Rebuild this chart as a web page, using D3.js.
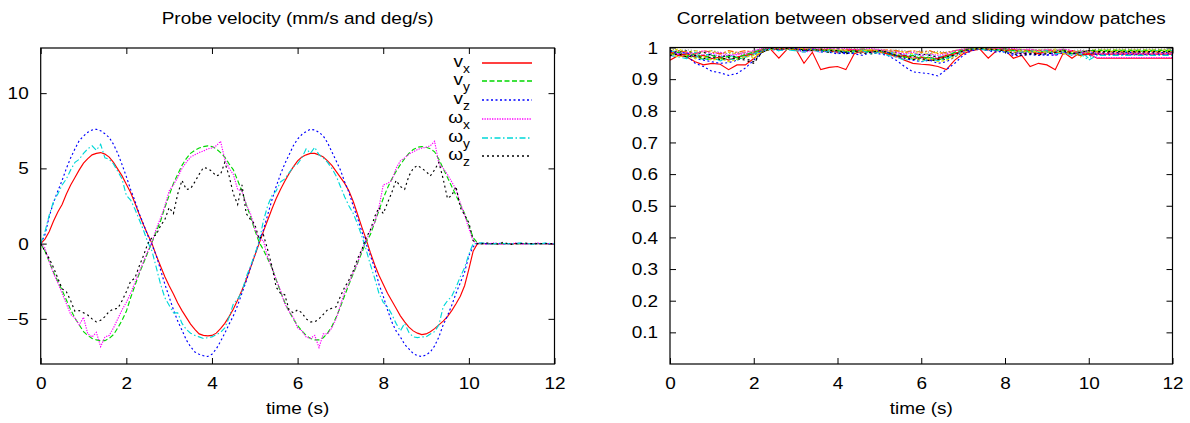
<!DOCTYPE html>
<html>
<head>
<meta charset="utf-8">
<script src="https://cdn.jsdelivr.net/npm/d3@7"></script>
<style>
body{margin:0;background:#fff}
svg text{font-family:"Liberation Sans",Arial,Helvetica,sans-serif;fill:#000}
</style>
</head>
<body>
<svg width="1190" height="423"></svg>
<script>
// ---- data (left: sampled every 0.1 s, right: every 0.2 s) ----
const velStep = 0.1
const vx = [
  0, 0.3, 0.8, 1.5, 2.1, 2.6, 3.3, 3.9, 4.4, 4.9,
  5.35, 5.65, 5.9, 6.0, 6.05, 5.95, 5.75, 5.4, 4.95, 4.5,
  3.95, 3.4, 2.7, 1.95, 1.25, 0.6, 0.0, -0.8, -1.5, -2.2,
  -2.8, -3.35, -3.95, -4.45, -4.9, -5.35, -5.7, -6.0, -6.1, -6.13,
  -6.1, -5.95, -5.65, -5.3, -4.85, -4.35, -3.75, -3.1, -2.4, -1.6,
  -0.8, 0.0, 0.8, 1.55, 2.3, 3.0, 3.6, 4.15, 4.65, 5.1,
  5.5, 5.75, 5.9, 6.0, 6.0, 5.9, 5.75, 5.5, 5.2, 4.8,
  4.4, 4.0, 3.5, 2.8, 1.95, 1.1, 0.3, -0.6, -1.4, -2.1,
  -2.7, -3.3, -3.8, -4.3, -4.8, -5.2, -5.55, -5.8, -5.95, -6.05,
  -6.0, -5.85, -5.65, -5.4, -5.15, -4.85, -4.45, -4.0, -3.5, -2.8,
  -1.7, -0.5, 0, 0, 0, 0, 0, 0, 0, 0,
  0, 0, 0, 0, 0, 0, 0, 0, 0, 0, 0
]
const vy = [
  0, -0.5, -1.2, -1.9, -2.5, -3.1, -3.75, -4.4, -4.95, -5.4,
  -5.85, -6.1, -6.3, -6.4, -6.45, -6.45, -6.3, -6.05, -5.6, -5.1,
  -4.5, -3.6, -2.8, -2.0, -1.3, -0.6, 0.1, 0.8, 1.5, 2.4,
  3.2, 4.0, 4.6, 5.2, 5.65, 6.0, 6.2, 6.35, 6.45, 6.5,
  6.45, 6.3, 6.05, 5.75, 5.3, 4.9, 4.2, 3.5, 2.6, 1.8,
  0.9, 0.1, -0.4, -1.0, -1.6, -2.4, -3.2, -3.9, -4.5, -5.0,
  -5.45, -5.8, -6.1, -6.3, -6.4, -6.4, -6.25, -5.95, -5.5, -4.9,
  -4.2, -3.45, -2.7, -2.0, -1.3, -0.6, 0.1, 0.6, 1.4, 2.2,
  3.0, 3.7, 4.3, 4.8, 5.25, 5.65, 6.0, 6.25, 6.4, 6.45,
  6.4, 6.3, 6.1, 5.6, 5.0, 4.4, 3.8, 3.2, 2.6, 2.0,
  1.2, 0.4, 0.05, 0, 0, 0, 0, 0, 0, 0,
  0, 0, 0, 0, 0, 0, 0, 0, 0, 0, 0
]
const vz = [
  0, 0.6, 1.8, 2.75, 3.5, 4.2, 5.0, 5.7, 6.3, 6.85,
  7.15, 7.4, 7.55, 7.6, 7.5, 7.3, 7.05, 6.6, 6.0, 5.25,
  4.45, 3.6, 2.85, 2.0, 1.3, 0.55, -0.1, -0.8, -1.75, -2.7,
  -3.55, -4.4, -5.15, -5.75, -6.4, -6.85, -7.2, -7.35, -7.45, -7.5,
  -7.35, -7.0, -6.5, -5.95, -5.35, -4.8, -4.1, -3.3, -2.5, -1.6,
  -0.75, 0.1, 0.9, 1.9, 2.9, 3.8, 4.6, 5.3, 5.9, 6.5,
  6.95, 7.25, 7.45, 7.6, 7.55, 7.4, 7.15, 6.7, 6.1, 5.5,
  4.9, 4.1, 3.4, 2.5, 1.7, 0.8, 0.0, -0.8, -1.6, -2.7,
  -3.5, -4.4, -5.2, -5.8, -6.2, -6.7, -7.0, -7.3, -7.45, -7.5,
  -7.4, -7.2, -6.8, -6.2, -5.4, -4.8, -4.1, -3.3, -2.6, -1.9,
  -0.8, -0.2, 0, 0, 0, 0, 0, 0, 0, 0,
  0, 0, 0, 0, 0, 0, 0, 0, 0, 0, 0
]
const wx = [
  0, -0.3, -1.2, -2.0, -2.6, -3.3, -4.0, -4.7, -4.95, -5.4,
  -4.9, -6.0, -6.2, -5.9, -6.85, -6.2, -6.1, -5.6, -5.0, -4.4,
  -3.9, -3.3, -2.6, -1.9, -1.2, -0.5, 0.1, 1.0, 1.7, 2.5,
  3.5, 3.9, 4.4, 5.0, 5.4, 5.75, 5.9, 6.05, 6.15, 6.3,
  6.35, 6.5, 6.8, 5.6, 5.0, 4.6, 3.6, 3.5, 2.6, 2.0,
  1.0, 0.3, 0.2, -0.9, -1.6, -2.4, -3.1, -4.0, -4.5, -4.9,
  -5.6, -5.8, -6.2, -6.3, -6.1, -6.9, -6.0, -6.0, -5.6, -5.0,
  -4.1, -3.2, -2.6, -1.9, -1.3, -0.4, 0.2, 0.9, 1.4, 2.4,
  3.9, 4.0, 4.2, 5.0, 5.5, 5.7, 5.95, 6.1, 6.25, 6.35,
  6.4, 6.5, 6.8, 5.3, 5.0, 4.6, 4.1, 3.6, 2.7, 1.9,
  1.0, 0.2, 0.0, 0.05, -0.05, 0.0, 0.05, 0.0, -0.05, 0.0,
  0, 0.05, 0, -0.05, 0, 0, 0.05, 0, 0, 0, 0
]
const wy = [
  0, 0.8, 1.9, 2.8, 3.3, 3.9, 4.3, 4.9, 5.4, 5.6,
  6.0, 6.3, 6.5, 6.2, 6.6, 5.7, 5.6, 5.3, 4.8, 4.3,
  3.2, 2.9, 2.3, 1.6, 0.9, 0.1, -0.5, -1.6, -2.7, -3.6,
  -4.1, -4.6, -4.6, -5.3, -5.7, -5.95, -6.1, -6.2, -6.3, -6.25,
  -6.2, -6.05, -5.9, -5.6, -4.9, -4.0, -3.7, -3.2, -2.2, -1.5,
  -0.7, 0.1, 1.5, 2.5, 3.2, 3.5, 4.1, 4.3, 4.7, 5.1,
  5.3, 5.7, 6.3, 6.0, 6.4, 5.9, 5.7, 5.4, 5.0, 4.5,
  3.8, 3.1, 2.5, 2.0, 1.3, 0.5, -0.4, -1.4, -2.3, -3.3,
  -3.9, -4.2, -4.7, -5.3, -5.8, -5.3, -5.9, -6.2, -6.25, -6.2,
  -6.2, -6.0, -5.85, -5.4, -4.2, -3.8, -3.5, -2.9, -2.2, -1.6,
  -0.7, 0.0, 0.0, 0.05, 0.0, -0.05, 0.0, 0.05, 0.0, 0.0,
  0, 0, 0.05, 0, 0, -0.05, 0, 0, 0.05, 0, 0
]
const wz = [
  0, -0.5, -1.0, -1.6, -2.3, -3.0, -3.2, -3.8, -4.5, -4.45,
  -4.6, -4.75, -5.0, -5.2, -5.1, -4.85, -4.5, -4.35, -4.3, -3.8,
  -3.2, -2.5, -2.3, -1.5, -0.8, 0.0, 0.4, 0.6, 1.2, 1.6,
  2.4, 2.0, 3.3, 4.2, 3.6, 3.65, 4.1, 4.6, 5.05, 5.0,
  4.8, 4.5, 4.6, 5.4, 4.5, 3.3, 2.6, 3.9, 2.0, 1.6,
  1.3, 0.3, 0.6, -0.4, -1.5, -2.9, -3.3, -3.4, -4.4, -4.6,
  -4.4, -4.6, -5.0, -5.2, -5.2, -5.0, -4.7, -4.4, -4.3, -4.2,
  -3.5, -2.9, -2.4, -1.8, -1.0, -0.4, 0.4, 0.9, 1.8, 2.4,
  2.0, 2.7, 3.4, 4.2, 3.8, 3.6, 4.5, 5.0, 5.2, 5.0,
  4.8, 4.5, 4.9, 5.4, 4.3, 3.0, 3.2, 3.8, 2.4, 1.9,
  1.4, 0.2, 0.0, 0.0, 0.05, 0.0, 0.0, -0.05, 0.1, 0.0,
  -0.05, 0, 0, 0.05, 0, 0, 0, 0, 0, 0, 0
]
const velNames = [['v','x'],['v','y'],['v','z'],['\u03c9','x'],['\u03c9','y'],['\u03c9','z']]

const corrStep = 0.2
const corrRed = [
  0.96, 0.975, 0.97, 0.955, 0.945, 0.95, 0.947, 0.93, 0.945, 0.945,
  0.965, 0.99, 0.995, 0.966, 0.995, 0.996, 0.95, 0.985, 0.93, 0.937,
  0.94, 0.93, 0.98, 0.99, 0.985, 0.99, 0.98, 0.975, 0.96, 0.95,
  0.947, 0.945, 0.94, 0.93, 0.96, 0.98, 0.99, 0.995, 0.966, 0.99,
  0.992, 0.966, 0.975, 0.94, 0.95, 0.945, 0.93, 0.985, 0.966, 0.985,
  0.98, 0.966, 0.966, 0.966, 0.966, 0.966, 0.966, 0.966, 0.966, 0.966,
  0.966
]
const corrGreen = [
  0.98, 0.985, 0.975, 0.97, 0.963, 0.962, 0.963, 0.962, 0.963, 0.97,
  0.98, 0.99, 0.997, 0.995, 0.998, 0.995, 0.99, 0.995, 0.99, 0.985,
  0.99, 0.985, 0.99, 0.995, 0.99, 0.985, 0.98, 0.975, 0.97, 0.965,
  0.97, 0.968, 0.965, 0.97, 0.98, 0.99, 0.995, 0.997, 0.995, 0.99,
  0.995, 0.99, 0.985, 0.99, 0.985, 0.99, 0.985, 0.99, 0.985, 0.98,
  0.975, 0.988, 0.988, 0.988, 0.988, 0.988, 0.988, 0.988, 0.988, 0.988,
  0.988
]
const corrBlue = [
  0.985, 0.98, 0.975, 0.95, 0.94, 0.925, 0.92, 0.912, 0.918, 0.935,
  0.96, 0.985, 0.995, 0.99, 0.996, 0.995, 0.99, 0.993, 0.985, 0.99,
  0.985, 0.98, 0.985, 0.99, 0.985, 0.98, 0.975, 0.96, 0.94, 0.923,
  0.92, 0.917, 0.91, 0.93, 0.95, 0.975, 0.99, 0.995, 0.99, 0.985,
  0.99, 0.98, 0.985, 0.98, 0.985, 0.975, 0.985, 0.99, 0.98, 0.985,
  0.975, 0.984, 0.984, 0.984, 0.984, 0.984, 0.984, 0.984, 0.984, 0.984,
  0.984
]
const corrMagenta = [
  0.99, 0.975, 0.98, 0.975, 0.977, 0.975, 0.976, 0.974, 0.977, 0.98,
  0.985, 0.993, 0.998, 0.995, 0.997, 0.993, 0.985, 0.99, 0.985, 0.99,
  0.985, 0.99, 0.993, 0.99, 0.985, 0.99, 0.985, 0.98, 0.975, 0.97,
  0.965, 0.97, 0.968, 0.972, 0.98, 0.985, 0.993, 0.996, 0.99, 0.994,
  0.99, 0.985, 0.98, 0.985, 0.98, 0.985, 0.975, 0.985, 0.975, 0.99,
  0.98, 0.968, 0.968, 0.968, 0.968, 0.968, 0.968, 0.968, 0.968, 0.968,
  0.968
]
const corrCyan = [
  0.985, 0.99, 0.98, 0.985, 0.975, 0.98, 0.97, 0.975, 0.97, 0.975,
  0.98, 0.99, 0.995, 0.997, 0.995, 0.99, 0.995, 0.99, 0.993, 0.99,
  0.993, 0.985, 0.99, 0.985, 0.99, 0.985, 0.99, 0.98, 0.975, 0.98,
  0.975, 0.978, 0.97, 0.975, 0.985, 0.99, 0.995, 0.997, 0.993, 0.99,
  0.995, 0.99, 0.99, 0.985, 0.99, 0.985, 0.99, 0.98, 0.985, 0.99,
  0.965, 0.99, 0.99, 0.99, 0.99, 0.99, 0.99, 0.99, 0.99, 0.99,
  0.99
]
const corrYellow = [
  0.99, 0.995, 0.985, 0.99, 0.985, 0.99, 0.98, 0.985, 0.98, 0.985,
  0.965, 0.99, 0.998, 0.997, 0.999, 0.997, 0.995, 0.997, 0.99, 0.995,
  0.99, 0.995, 0.99, 0.995, 0.99, 0.993, 0.985, 0.99, 0.985, 0.98,
  0.985, 0.98, 0.985, 0.98, 0.99, 0.995, 0.997, 0.998, 0.995, 0.997,
  0.995, 0.993, 0.995, 0.99, 0.993, 0.99, 0.995, 0.985, 0.99, 0.97,
  0.99, 0.993, 0.993, 0.993, 0.993, 0.993, 0.993, 0.993, 0.993, 0.993,
  0.993
]
const corrBlack = [
  0.99, 0.985, 0.99, 0.98, 0.985, 0.975, 0.97, 0.975, 0.97, 0.965,
  0.955, 0.985, 0.995, 0.993, 0.996, 0.995, 0.99, 0.993, 0.99, 0.985,
  0.99, 0.98, 0.985, 0.99, 0.98, 0.985, 0.99, 0.985, 0.975, 0.97,
  0.98, 0.975, 0.97, 0.96, 0.98, 0.99, 0.993, 0.995, 0.99, 0.993,
  0.99, 0.985, 0.98, 0.983, 0.98, 0.983, 0.98, 0.99, 0.985, 0.975,
  0.985, 0.982, 0.982, 0.982, 0.982, 0.982, 0.982, 0.982, 0.982, 0.982,
  0.982
]
const corrOrange = [
  0.98, 0.99, 0.985, 0.98, 0.99, 0.985, 0.98, 0.99, 0.985, 0.99,
  0.985, 0.995, 0.997, 0.995, 0.997, 0.998, 0.993, 0.995, 0.993, 0.995,
  0.99, 0.993, 0.995, 0.99, 0.993, 0.99, 0.993, 0.99, 0.985, 0.99,
  0.985, 0.99, 0.98, 0.985, 0.99, 0.993, 0.995, 0.997, 0.995, 0.993,
  0.997, 0.993, 0.99, 0.993, 0.99, 0.993, 0.99, 0.993, 0.99, 0.985,
  0.99, 0.986, 0.986, 0.986, 0.986, 0.986, 0.986, 0.986, 0.986, 0.986,
  0.986
]
const corrGray = [
  0.995, 0.99, 0.993, 0.99, 0.985, 0.99, 0.985, 0.98, 0.985, 0.98,
  0.99, 0.996, 0.998, 0.997, 0.998, 0.997, 0.995, 0.997, 0.995, 0.997,
  0.995, 0.993, 0.997, 0.995, 0.993, 0.995, 0.99, 0.993, 0.99, 0.985,
  0.99, 0.985, 0.988, 0.985, 0.99, 0.995, 0.997, 0.998, 0.997, 0.995,
  0.997, 0.995, 0.993, 0.995, 0.993, 0.995, 0.993, 0.995, 0.99, 0.993,
  0.99, 0.995, 0.995, 0.995, 0.995, 0.995, 0.995, 0.995, 0.995, 0.995,
  0.995
]
const corrRed2 = [
  0.985, 0.975, 0.98, 0.97, 0.975, 0.965, 0.97, 0.96, 0.97, 0.975,
  0.98, 0.993, 0.997, 0.995, 0.997, 0.993, 0.995, 0.99, 0.993, 0.99,
  0.985, 0.99, 0.993, 0.985, 0.99, 0.985, 0.98, 0.97, 0.975, 0.965,
  0.97, 0.96, 0.965, 0.975, 0.98, 0.99, 0.995, 0.997, 0.993, 0.995,
  0.99, 0.993, 0.985, 0.99, 0.98, 0.99, 0.985, 0.98, 0.99, 0.975,
  0.98, 0.979, 0.979, 0.979, 0.979, 0.979, 0.979, 0.979, 0.979, 0.979,
  0.979
]
const corrGreen2 = [
  0.975, 0.985, 0.97, 0.98, 0.968, 0.975, 0.965, 0.972, 0.968, 0.978,
  0.985, 0.995, 0.998, 0.996, 0.999, 0.996, 0.993, 0.996, 0.99, 0.993,
  0.99, 0.985, 0.99, 0.993, 0.985, 0.99, 0.983, 0.975, 0.97, 0.975,
  0.965, 0.97, 0.96, 0.97, 0.985, 0.993, 0.997, 0.998, 0.996, 0.993,
  0.996, 0.99, 0.993, 0.985, 0.99, 0.985, 0.99, 0.993, 0.98, 0.985,
  0.99, 0.991, 0.991, 0.991, 0.991, 0.991, 0.991, 0.991, 0.991, 0.991,
  0.991
]
const corrBlue2 = [
  0.99, 0.98, 0.985, 0.965, 0.96, 0.955, 0.95, 0.952, 0.96, 0.97,
  0.975, 0.99, 0.996, 0.993, 0.995, 0.997, 0.99, 0.995, 0.99, 0.985,
  0.98, 0.985, 0.98, 0.975, 0.985, 0.99, 0.985, 0.975, 0.965, 0.96,
  0.955, 0.96, 0.95, 0.955, 0.97, 0.985, 0.993, 0.996, 0.993, 0.99,
  0.985, 0.975, 0.975, 0.978, 0.975, 0.977, 0.975, 0.985, 0.98, 0.99,
  0.985, 0.977, 0.977, 0.977, 0.977, 0.977, 0.977, 0.977, 0.977, 0.977,
  0.977
]
const corrMagenta2 = [
  0.97, 0.98, 0.985, 0.98, 0.99, 0.98, 0.985, 0.975, 0.98, 0.985,
  0.99, 0.997, 0.999, 0.997, 0.998, 0.999, 0.997, 0.998, 0.995, 0.997,
  0.995, 0.997, 0.993, 0.995, 0.997, 0.993, 0.99, 0.985, 0.98, 0.985,
  0.975, 0.98, 0.975, 0.98, 0.99, 0.995, 0.998, 0.999, 0.997, 0.998,
  0.995, 0.997, 0.993, 0.995, 0.99, 0.993, 0.99, 0.995, 0.99, 0.98,
  0.99, 0.981, 0.981, 0.981, 0.981, 0.981, 0.981, 0.981, 0.981, 0.981,
  0.981
]
const corrCyan2 = [
  0.975, 0.97, 0.965, 0.975, 0.96, 0.97, 0.958, 0.965, 0.96, 0.97,
  0.98, 0.99, 0.995, 0.99, 0.993, 0.99, 0.985, 0.993, 0.985, 0.99,
  0.985, 0.99, 0.985, 0.99, 0.98, 0.985, 0.975, 0.97, 0.96, 0.965,
  0.955, 0.965, 0.958, 0.965, 0.975, 0.99, 0.995, 0.996, 0.99, 0.993,
  0.985, 0.99, 0.985, 0.99, 0.985, 0.99, 0.98, 0.985, 0.975, 0.98,
  0.96, 0.975, 0.975, 0.975, 0.975, 0.975, 0.975, 0.975, 0.975, 0.975,
  0.975
]
const corrYellow2 = [
  0.98, 0.97, 0.975, 0.965, 0.97, 0.96, 0.965, 0.955, 0.962, 0.97,
  0.975, 0.985, 0.995, 0.997, 0.995, 0.993, 0.997, 0.99, 0.995, 0.99,
  0.993, 0.99, 0.985, 0.99, 0.993, 0.985, 0.99, 0.98, 0.97, 0.965,
  0.96, 0.965, 0.955, 0.96, 0.97, 0.985, 0.995, 0.997, 0.995, 0.993,
  0.99, 0.985, 0.99, 0.985, 0.988, 0.985, 0.99, 0.98, 0.985, 0.99,
  0.985, 0.989, 0.989, 0.989, 0.989, 0.989, 0.989, 0.989, 0.989, 0.989,
  0.989
]
const corrBlack2 = [
  0.975, 0.98, 0.97, 0.975, 0.965, 0.97, 0.962, 0.968, 0.965, 0.96,
  0.95, 0.985, 0.997, 0.995, 0.997, 0.995, 0.993, 0.99, 0.995, 0.99,
  0.99, 0.985, 0.99, 0.98, 0.985, 0.99, 0.985, 0.975, 0.97, 0.962,
  0.965, 0.958, 0.962, 0.97, 0.975, 0.99, 0.995, 0.997, 0.995, 0.993,
  0.99, 0.98, 0.975, 0.98, 0.977, 0.98, 0.985, 0.99, 0.98, 0.985,
  0.99, 0.987, 0.987, 0.987, 0.987, 0.987, 0.987, 0.987, 0.987, 0.987,
  0.987
]

const timeTicks = [0, 2, 4, 6, 8, 10, 12]
const velTicks = [-5, 0, 5, 10]
const corrTicks = [0.1, 0.2, 0.3, 0.4, 0.5, 0.6, 0.7, 0.8, 0.9, 1]

// gnuplot-like line types
const lineTypes = [
  {color:'#ff0000', dash:null},
  {color:'#00d800', dash:'5,2.5'},
  {color:'#0000ff', dash:'2,2.5'},
  {color:'#ff00ff', dash:'1.3,1.2'},
  {color:'#00d8d8', dash:'6,2.5,1.5,2.5'},
  {color:'#000000', dash:'2,3'}
]
const corrTypes = [
  {color:'#ff0000', dash:null},
  {color:'#00d800', dash:'5,2.5'},
  {color:'#0000ff', dash:'2,2.5'},
  {color:'#ff00ff', dash:'1.3,1.2'},
  {color:'#00d8d8', dash:'6,2.5,1.5,2.5'},
  {color:'#e0e000', dash:'3,2'},
  {color:'#000000', dash:'2,3'},
  {color:'#ff6000', dash:'6,2,2,2'},
  {color:'#888888', dash:'1,2'}
]
const lineWidth = 1.15

const svg = d3.select('svg')
const fontSize = 16.5
const stretch = 1.15   // the reference text is a bit wider than Liberation Sans

function wideText(sel, x, y){
  return sel.attr('x', 0).attr('y', 0)
    .attr('transform', `translate(${x},${y}) scale(${stretch},1)`)
}

function panel(box, xDomain, yDomain, yTicks, yFmt, title, id){
  const g = svg.append('g')
  const x = d3.scaleLinear().domain(xDomain).range([box.left, box.right])
  const y = d3.scaleLinear().domain(yDomain).range([box.bottom, box.top])

  svg.append('clipPath').attr('id', id)
    .append('rect')
    .attr('x', box.left).attr('y', box.top)
    .attr('width', box.right - box.left).attr('height', box.bottom - box.top)

  const axes = [
    [d3.axisBottom(x).tickValues(timeTicks).tickPadding(13), `translate(0,${box.bottom})`, 'b'],
    [d3.axisTop(x).tickValues(timeTicks).tickFormat(''), `translate(0,${box.top})`, 't'],
    [d3.axisLeft(y).tickValues(yTicks).tickFormat(yFmt).tickPadding(12), `translate(${box.left},0)`, 'l'],
    [d3.axisRight(y).tickValues(yTicks).tickFormat(''), `translate(${box.right},0)`, 'r']
  ]
  axes.forEach(([ax, tr, side]) => {
    const a = g.append('g').attr('transform', tr)
      .call(ax.tickSizeInner(-6).tickSizeOuter(0))
    a.select('.domain').remove()
    a.selectAll('line').attr('stroke', '#000').attr('stroke-width', 1)
    a.selectAll('text').attr('font-size', fontSize).attr('fill', '#000')
    if (side === 'b') wideText(a.selectAll('text'), 0, 13).attr('dy', '0.71em')
    if (side === 'l') wideText(a.selectAll('text'), -12, 0).attr('dy', '0.34em')
  })
  svg.selectAll('g[font-family]').attr('font-family', null)

  wideText(g.append('text'), (box.left + box.right) / 2, 24)
    .attr('text-anchor', 'middle').attr('font-size', fontSize)
    .text(title)
  wideText(g.append('text'), (box.left + box.right) / 2, 414)
    .attr('text-anchor', 'middle').attr('font-size', fontSize)
    .text('time (s)')

  const plot = svg.append('g').attr('clip-path', `url(#${id})`)
  return {x, y, plot, g}
}

function drawSeries(p, list, types, step){
  const line = d3.line()
    .x((d, i) => p.x(i * step))
    .y(d => p.y(d))
  list.forEach((s, k) => {
    const t = types[k % types.length]
    p.plot.append('path')
      .datum(s)
      .attr('fill', 'none')
      .attr('stroke', t.color)
      .attr('stroke-width', lineWidth)
      .attr('stroke-dasharray', t.dash)
      .attr('d', line)
  })
}

function drawFrame(box){
  svg.append('rect')
    .attr('x', box.left).attr('y', box.top)
    .attr('width', box.right - box.left).attr('height', box.bottom - box.top)
    .attr('fill', 'none').attr('stroke', '#000').attr('stroke-width', 1.2)
}

// left panel: probe velocity
const leftBox = {left:40.7, right:554.5, top:48, bottom:364}
const left = panel(leftBox, [0, 12], [-8, 13], velTicks, d3.format('d'),
  'Probe velocity (mm/s and deg/s)', 'clipL')
const velSeries = [vx, vy, vz, wx, wy, wz]
drawSeries(left, velSeries, lineTypes, velStep)
drawFrame(leftBox)

// legend
const legend = svg.append('g')
velNames.forEach(([base, sub], i) => {
  const yy = Math.round(62.7 + i * 18.7)
  const t = lineTypes[i]
  const txt = wideText(legend.append('text'), 470, yy + 4)
    .attr('text-anchor', 'end')
    .attr('font-size', fontSize)
  txt.append('tspan').text(base)
  txt.append('tspan').attr('font-size', 12).attr('dy', 5.5).text(sub)
  legend.append('line')
    .attr('x1', 482).attr('x2', 532)
    .attr('y1', yy).attr('y2', yy)
    .attr('stroke', t.color)
    .attr('stroke-width', 1.6)
    .attr('stroke-dasharray', t.dash)
})

// right panel: correlation
const rightBox = {left:670, right:1172.5, top:47.5, bottom:364}
const right = panel(rightBox, [0, 12], [0, 1], corrTicks,
  d => d === 1 ? '1' : d3.format('.1f')(d),
  'Correlation between observed and sliding window patches', 'clipR')
const corrSeries = [corrRed, corrGreen, corrBlue, corrMagenta, corrCyan,
  corrYellow, corrBlack, corrOrange, corrGray,
  corrRed2, corrGreen2, corrBlue2, corrMagenta2, corrCyan2, corrYellow2, corrBlack2]
drawSeries(right, corrSeries, corrTypes, corrStep)
drawFrame(rightBox)
</script>
</body>
</html>
